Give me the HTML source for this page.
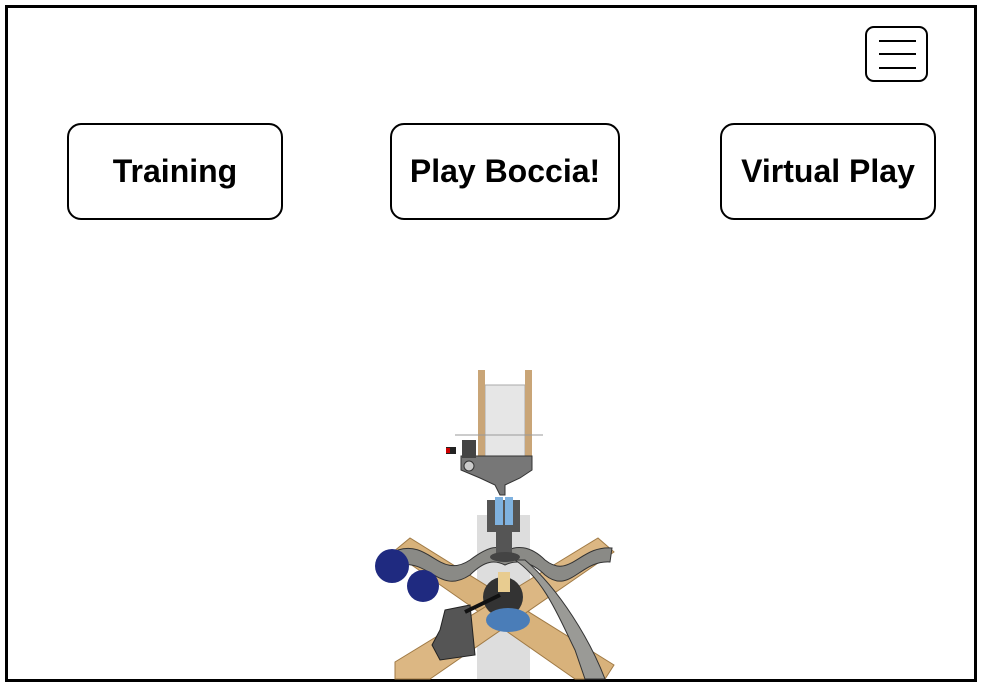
<!DOCTYPE html>
<html><head><style>
body{margin:0;background:#fff;width:983px;height:688px;position:relative;overflow:hidden;font-family:"Liberation Sans",Arial,sans-serif}
.frame{position:absolute;left:5px;top:5px;width:966px;height:671px;border:3px solid #000}
.btn{position:absolute;top:123px;border:2px solid #000;border-radius:14px;display:flex;align-items:center;justify-content:center;font-weight:bold;font-size:32px;color:#000;box-sizing:border-box;height:97px}
.menu{position:absolute;left:865px;top:26px;width:63px;height:56px;border:2px solid #000;border-radius:9px;box-sizing:border-box}
.menu i{position:absolute;left:12px;width:37px;height:1.5px;background:#000}
</style></head><body>
<div class="frame"></div>
<div class="menu"><i style="top:12px"></i><i style="top:25px"></i><i style="top:39px"></i></div>
<div class="btn" style="left:67px;width:216px">Training</div>
<div class="btn" style="left:390px;width:230px">Play Boccia!</div>
<div class="btn" style="left:720px;width:216px">Virtual Play</div>
<svg style="position:absolute;left:0;top:0" width="983" height="688">
<rect x="477" y="515" width="53" height="164" fill="#ddd"/>
<g stroke="#a07a45" stroke-width="1">
<polygon points="393,552 410,538 614,665 605,679 575,679" fill="#d8b27b"/>
<polygon points="598,538 614,552 430,679 395,679 395,662" fill="#dcb783"/>
</g>
<path d="M398,550 C430,540 440,580 470,560 C490,545 500,545 505,552 C515,545 530,545 545,560 C570,580 580,545 612,548 L610,562 C580,560 570,595 545,575 C530,560 515,560 505,565 C495,560 485,560 470,575 C440,595 430,560 400,565 Z" fill="#8a8a86" stroke="#333"/>
<path d="M515,560 C545,580 560,620 575,650 L585,679 L605,679 C590,640 560,590 525,560 Z" fill="#9a9a96" stroke="#333"/>
<rect x="496" y="530" width="16" height="30" fill="#555"/>
<ellipse cx="505" cy="557" rx="15" ry="5" fill="#444"/>
<circle cx="503" cy="597" r="20" fill="#333"/>
<rect x="498" y="572" width="12" height="20" fill="#e8cc90"/>
<ellipse cx="508" cy="620" rx="22" ry="12" fill="#4a7db8"/>
<polygon points="445,610 470,605 475,655 440,660 432,645 440,630" fill="#555" stroke="#222"/>
<line x1="465" y1="612" x2="500" y2="595" stroke="#111" stroke-width="4"/>
<circle cx="392" cy="566" r="17" fill="#1f2a80"/>
<circle cx="423" cy="586" r="16" fill="#1f2a80"/>
<rect x="487" y="500" width="33" height="32" fill="#555"/>
<rect x="495" y="497" width="8" height="28" fill="#7fb2e0"/>
<rect x="505" y="497" width="8" height="28" fill="#7fb2e0"/>
<rect x="485" y="385" width="40" height="72" fill="#e6e6e6" stroke="#aaa"/>
<rect x="478" y="370" width="7" height="88" fill="#c9a577"/>
<rect x="525" y="370" width="7" height="88" fill="#c9a577"/>
<line x1="455" y1="435" x2="543" y2="435" stroke="#999"/>
<polygon points="461,456 532,456 532,470 520,478 505,485 505,495 500,495 495,485 480,478 461,470" fill="#777" stroke="#333"/>
<rect x="462" y="440" width="14" height="18" fill="#444"/>
<rect x="446" y="447" width="10" height="7" fill="#222"/>
<rect x="446" y="448" width="4" height="5" fill="#c00"/>
<circle cx="469" cy="466" r="5" fill="#ccc" stroke="#333"/>
</svg>
</body></html>
